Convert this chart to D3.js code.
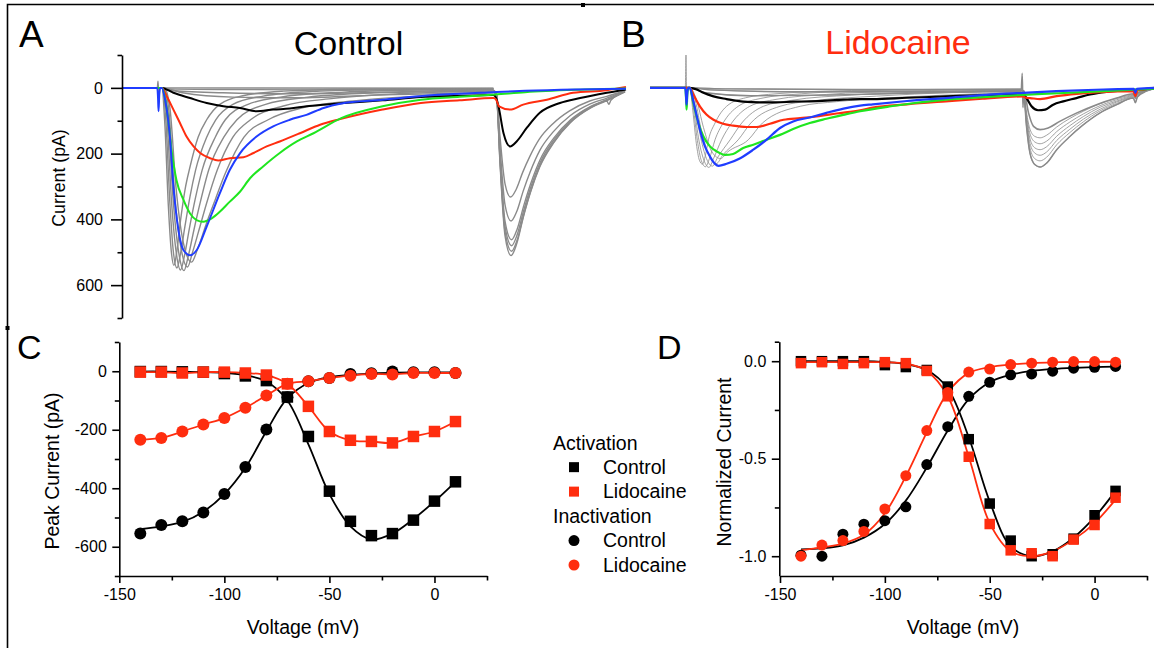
<!DOCTYPE html>
<html>
<head>
<meta charset="utf-8">
<script src="https://cdn.jsdelivr.net/npm/d3@7"></script>
<style>
  body { margin: 0; background: #fff; }
</style>
</head>
<body>
<script>
// ---- current traces, [time (ms), current (pA), positive = inward/down] ----
const ctrlBlack = [[0,0],[7.9,0],[10.2,15],[13.5,31],[16.8,46],[20.1,56],[23.4,61],[26.7,71],[30,66],[33.3,63],[36.6,56],[40,51],[44,46],[51.7,38],[59.3,28],[66,25],[73.7,22],[74.2,30],[74.7,56],[75.7,138],[77,178],[78.3,163],[80.3,122],[82.9,76],[86.9,46],[90.9,31],[96.2,15],[100,5]];
const ctrlRed = [[0,0],[7.9,0],[8.9,26],[10.2,66],[11.5,107],[12.8,148],[14.2,178],[15.5,198],[17.5,214],[19.1,221],[21.4,214],[24.1,211],[26.1,198],[28.7,178],[31.3,163],[35.3,138],[39.3,112],[43.3,95],[51.7,66],[59.3,46],[67,38],[73.7,31],[74.2,35],[74.8,56],[77,66],[79.6,51],[84.3,36],[89.5,15],[96.2,7],[100,-3]];
const ctrlGreen = [[0,0],[7.9,0],[8.9,66],[9.9,198],[10.8,280],[12.2,341],[13.5,382],[14.8,402],[16.1,407],[17.8,397],[19.4,377],[21.4,346],[23.4,316],[25.4,275],[28,239],[31.3,198],[34.7,163],[38,138],[43.5,92],[51.7,56],[59.3,36],[67,27],[74.1,20],[80,13],[90,6],[100,2]];
const ctrlBlue = [[0,0],[7.0,0],[7.15,30],[7.25,71],[7.4,20],[7.6,0],[7.9,0],[8.6,40],[9.5,148],[10.2,300],[11.2,433],[12.2,494],[13.5,509],[14.8,494],[16.8,422],[19.4,321],[21.4,249],[23.4,199],[26.7,148],[30,117],[33.3,97],[36.6,82],[40,61],[43.3,48],[51.8,36],[62,22],[73.8,13],[80,9],[90,5],[100,3]];
const ctrlGrayPulse1 = [
  [[0,0],[7.9,0],[10,8],[20,15],[35,18],[50,14],[73.7,10]],
  [[0,0],[7.0,0],[7.15,-20],[7.3,25],[7.45,0],[7.9,0],[9,3],[20,5],[40,6],[73.7,5]],
  [[0,0],[7.9,0],[12,15],[22,28],[35,30],[50,22],[73.7,14]],
  [[0,0],[7.9,0],[73.7,1]],
  [[0,0],[7.9,0],[8.5,110],[9.2,360],[9.8,500],[10.3,540],[10.9,495],[11.6,405],[12.5,310],[13.5,240],[15.1,150],[16.8,97],[19.4,50],[24,24],[32,10],[45,4],[73.7,2]],
  [[0,0],[8.0,0],[8.7,100],[9.5,350],[10.2,500],[10.9,548],[11.6,505],[12.5,420],[13.5,330],[14.6,250],[16.8,150],[18.6,97],[22,50],[28,25],[38,11],[55,5],[73.7,3]],
  [[0,0],[8.1,0],[8.9,90],[9.8,340],[10.8,505],[11.6,554],[12.4,510],[13.4,425],[14.5,340],[15.9,250],[18.5,150],[20.5,97],[25,50],[32,27],[44,13],[60,6],[73.7,4]],
  [[0,0],[8.2,0],[9.1,80],[10.1,330],[11.3,505],[12.3,556],[13.1,515],[14.3,430],[15.5,350],[17.2,250],[20.2,150],[22.8,97],[28.5,50],[37,28],[50,15],[65,8],[73.7,6]],
  [[0,0],[8.3,0],[9.3,70],[10.4,315],[11.8,495],[13.0,545],[14,500],[15.5,420],[16.8,350],[18.9,250],[22,150],[25.5,97],[32,55],[42,32],[55,18],[73.7,9]],
  [[0,0],[8.4,0],[9.5,60],[10.7,300],[12.3,480],[13.8,530],[15,490],[16.8,410],[18.5,340],[20.5,260],[24.2,150],[29,97],[36,60],[47,38],[60,24],[73.7,14]]
];
const ctrlGrayPulse2 = [
  [[73.7,10],[74.3,25],[75,230],[76,450],[77.2,510],[78.3,475],[79.6,395],[81,320],[82.9,240],[85.6,168],[88.9,107],[92.9,62],[96.2,40],[96.6,50],[97,38],[99.8,12]],
  [[73.7,10],[74.3,24],[75,222],[76,437],[77.3,497],[78.4,463],[79.7,386],[81.1,313],[83,234],[85.7,164],[89,104],[93,60],[96.2,39],[99.8,12]],
  [[73.7,9],[74.3,23],[75,214],[76,422],[77.3,480],[78.4,447],[79.7,373],[81.1,302],[83,226],[85.7,158],[89,101],[93,58],[96.2,37],[99.8,11]],
  [[73.7,9],[74.3,22],[75,206],[76,406],[77.3,462],[78.4,430],[79.7,359],[81.1,291],[83,217],[85.7,152],[89,97],[93,56],[96.2,36],[99.8,11]],
  [[73.7,8],[74.3,20],[75,180],[76,356],[77.2,405],[78.3,377],[79.6,314],[81,255],[82.9,190],[85.6,133],[88.9,85],[92.9,49],[96.2,31],[99.8,10]],
  [[73.7,7],[74.3,17],[75,148],[76,292],[77.1,332],[78.2,309],[79.5,257],[80.9,209],[82.8,156],[85.5,109],[88.8,70],[92.8,40],[96.2,26],[99.8,8]]
];

const lidoBlack = [[0,0],[7.9,0],[9.3,5],[10.6,15],[12.6,26],[15.2,34],[18.5,42],[21.8,44],[25.1,44],[28.4,42],[31.7,41],[35,39],[38.4,36],[41.7,34],[44.2,34],[51,30],[58.7,26],[66,22],[74,19],[74.7,31],[75.7,56],[77,68],[78.4,66],[80,51],[82,41],[84.6,31],[87.3,20],[90.6,12],[95.9,7],[100,1]];
const lidoRed = [[0,0],[7.9,0],[8.6,20],[9.9,56],[11.2,81],[12.6,97],[14.5,109],[16.5,115],[19.2,119],[21.2,119],[23.8,109],[26.5,97],[29.8,92],[33.1,87],[37,78],[41.7,68],[44.2,60],[51,50],[58.7,41],[66,33],[74,26],[74.6,30],[75.4,31],[77.4,34],[80.7,25],[84.7,18],[89.3,13],[95.9,10],[96.3,25],[96.7,8],[97.9,5],[100,0]];
const lidoGreen = [[0,0],[7.0,0],[7.15,30],[7.25,66],[7.4,20],[7.6,0],[7.9,0],[8.6,46],[9.6,107],[10.6,148],[11.9,178],[13.2,193],[14.9,204],[16.5,201],[18.5,183],[20.5,173],[23.1,158],[25.8,143],[28.4,125],[31.7,107],[35,94],[38.4,82],[41.7,71],[47.8,56],[58.7,36],[66,28],[74,21],[80,17],[90,10],[100,2]];
const lidoBlue = [[0,0],[7.0,0],[7.15,25],[7.25,51],[7.4,15],[7.6,0],[7.9,0],[8.6,41],[9.3,87],[9.9,127],[10.9,178],[11.9,209],[12.9,231],[13.6,237],[15.2,231],[17.9,214],[20.5,188],[23.1,158],[25.8,122],[28.4,102],[31.7,90],[35,76],[38.4,63],[41.7,54],[44.2,50],[51,40],[58.7,31],[66,22],[74,15],[80.6,10],[90,5],[96,3],[96.3,15],[96.6,3],[100,0]];
const lidoGrayPulse1 = [
  [[0,0],[7.9,0],[12,6],[30,12],[50,12],[73.7,9]],
  [[0,0],[7.9,0],[15,3],[40,5],[73.7,5]],
  [[0,0],[7.9,0],[11,15],[20,24],[35,22],[55,15],[73.7,10]],
  [[0,0],[7.0,0],[7.14,-100],[7.3,60],[7.5,0],[7.9,0],[8.5,70],[9.2,170],[9.8,220],[10.4,232],[11.0,205],[11.6,158],[12.9,107],[15.2,56],[19,30],[25,18],[40,8],[73.7,3]],
  [[0,0],[7.9,0],[8.6,60],[9.4,160],[10.2,222],[11.0,240],[11.8,215],[12.9,158],[14.5,107],[17.5,56],[22,32],[30,18],[45,8],[73.7,4]],
  [[0,0],[7.9,0],[8.7,50],[9.6,150],[10.7,220],[11.7,242],[12.6,215],[14.2,158],[16.2,107],[19.8,56],[25,35],[35,20],[50,10],[73.7,5]],
  [[0,0],[7.9,0],[8.8,45],[9.9,140],[11.2,215],[12.4,238],[13.4,212],[15.9,158],[18.2,107],[22.5,56],[28,38],[40,22],[55,12],[73.7,6]],
  [[0,0],[7.9,0],[9.0,40],[10.2,130],[11.7,205],[13.2,230],[14.4,205],[17.5,158],[20,107],[25.8,56],[32,40],[45,25],[60,14],[73.7,8]],
  [[0,0],[7.9,0],[9.2,35],[10.6,120],[12.3,195],[14.0,215],[15.4,195],[19.5,158],[22.3,107],[29.8,56],[37,42],[50,28],[65,18],[73.7,12]]
];
const lidoGrayPulse2 = [
  [[73.7,8],[74.1,10],[74.7,117],[75.4,199],[76.4,234],[77.4,241],[78.7,229],[80.7,188],[83.3,148],[86,112],[89.3,76],[92.6,51],[95.9,31],[96.3,45],[96.7,28],[98.5,10],[99.9,3]],
  [[73.7,8],[74.1,10],[74.7,108],[75.4,183],[76.4,216],[77.4,222],[78.7,211],[80.7,173],[83.3,136],[86,103],[89.3,70],[92.6,47],[95.9,29],[98.5,9],[99.9,3]],
  [[73.7,8],[74.1,10],[74.7,99],[75.4,169],[76.4,199],[77.4,205],[78.7,195],[80.7,160],[83.3,126],[86,95],[89.3,65],[92.6,43],[95.9,26],[98.5,9],[99.9,3]],
  [[73.7,8],[74.1,10],[74.7,91],[75.4,155],[76.4,183],[77.4,188],[78.7,179],[80.7,147],[83.3,115],[86,87],[89.3,59],[92.6,40],[95.9,24],[98.5,8],[99.9,3]],
  [[73.7,8],[74.1,10],[74.7,82],[75.4,140],[76.4,165],[77.4,170],[78.7,162],[80.7,133],[83.3,104],[86,79],[89.3,54],[92.6,36],[95.9,22],[98.5,7],[99.9,3]],
  [[73.7,8],[74.1,10],[74.7,74],[75.4,126],[76.4,148],[77.4,152],[78.7,144],[80.7,119],[83.3,93],[86,71],[89.3,48],[92.6,32],[95.9,20],[98.5,7],[99.9,3]]
];
const lidoGrayThick = [[73.7,5],[73.85,-44],[74.0,60],[74.15,8],[75.1,76],[76.1,117],[77.4,127],[79,122],[81.3,102],[84.7,76],[88.6,51],[92.6,31],[95.9,18],[96.3,32],[96.7,15],[99.9,3]];

// ---- peak current vs voltage ----
const voltages = [-140,-130,-120,-110,-100,-90,-80,-70,-60,-50,-40,-30,-20,-10,0,10];
const peakActCtrl = [-1,-1,-2,-3,-8,-16,-32,-88,-223,-410,-513,-562,-555,-509,-444,-378];
const peakActLido = [-3,-3,-6,-3,-3,-6,-13,-43,-120,-206,-236,-240,-245,-223,-206,-172];
const peakInactCtrl = [-555,-526,-513,-483,-420,-327,-199,-89,-34,-23,-9,-7,-1,-3,-3,-6];
const peakInactLido = [-234,-228,-206,-182,-160,-125,-83,-43,-34,-23,-15,-9,-11,-6,-6,-6];
const peakActCtrlFit = [-1,-1,-2,-3,-6,-14,-35,-100,-250,-420,-530,-575,-555,-505,-445,-378];
const peakInactCtrlFit = [-540,-530,-515,-480,-420,-330,-205,-92,-40,-20,-12,-8,-5,-4,-4,-4];

// ---- normalized current ----
const normActCtrl = [0,0,0,0,-0.02,-0.03,-0.045,-0.13,-0.40,-0.73,-0.92,-1.0,-0.99,-0.91,-0.79,-0.665];
const normActLido = [-0.01,-0.005,-0.014,-0.01,-0.005,-0.01,-0.05,-0.18,-0.49,-0.835,-0.97,-0.985,-1.0,-0.915,-0.84,-0.70];
const normInactCtrl = [-0.995,-1.0,-0.887,-0.836,-0.818,-0.747,-0.53,-0.336,-0.18,-0.108,-0.07,-0.065,-0.051,-0.036,-0.031,-0.027];
const normInactLido = [-1.0,-0.943,-0.92,-0.873,-0.758,-0.587,-0.356,-0.16,-0.056,-0.04,-0.017,-0.01,-0.005,-0.002,-0.002,-0.005];
const normActCtrlFit = [0,0,0,0,-0.005,-0.015,-0.045,-0.14,-0.39,-0.72,-0.95,-1.0,-0.975,-0.905,-0.80,-0.665];
const normActLidoFit = [-0.005,-0.005,-0.005,-0.005,-0.005,-0.012,-0.05,-0.18,-0.49,-0.83,-0.975,-1.0,-0.975,-0.915,-0.83,-0.71];
const normInactCtrlFit = [-0.965,-0.96,-0.945,-0.905,-0.835,-0.715,-0.545,-0.355,-0.195,-0.108,-0.07,-0.05,-0.04,-0.034,-0.03,-0.028];
const normInactLidoFit = [-0.97,-0.955,-0.935,-0.89,-0.78,-0.59,-0.365,-0.16,-0.06,-0.03,-0.017,-0.01,-0.006,-0.004,-0.003,-0.003];

// ---- ticks ----
const traceTicks = [0, 200, 400, 600];
const traceMinor = [-100, 100, 300, 500, 700];
const peakTicks = [0, -200, -400, -600];
const peakMinor = [100, -100, -300, -500, -700];
const voltTicks = [-150, -100, -50, 0];
const voltMinor = [-125, -75, -25, 25];
const normTicks = [0, -0.5, -1.0];
const normMinor = [0.1, -0.25, -0.75];

const ink = '#000', red = '#ff2d0f', green = '#1fe61f', blue = '#1f3cff', gray = '#8a8a8a';
const font = '"Liberation Sans", Arial, sans-serif';

const svg = d3.select('body').append('svg')
  .attr('width', 1154).attr('height', 648)
  .attr('font-family', font);

// figure frame
svg.append('path').attr('d', 'M7.5,648V4.5H1154').attr('fill', 'none').attr('stroke', ink).attr('stroke-width', 1.6);
svg.append('rect').attr('x', 581).attr('y', 3).attr('width', 4).attr('height', 4).attr('fill', ink);
svg.append('rect').attr('x', 5.5).attr('y', 326).attr('width', 4).attr('height', 4).attr('fill', ink);

function leftAxis(x, scale, major, minor, fmt, len, pad) {
  const g = svg.append('g').attr('transform', `translate(${x},0)`);
  g.append('g')
    .call(d3.axisLeft(scale).tickValues(minor).tickSize(4.5).tickSizeOuter(0).tickFormat(''))
    .call(s => s.select('.domain').remove());
  g.append('g')
    .call(d3.axisLeft(scale).tickValues(major).tickSize(len).tickSizeOuter(0).tickPadding(pad).tickFormat(fmt));
  g.selectAll('path, line').attr('stroke', ink).attr('stroke-width', 1.6);
  g.selectAll('text').attr('fill', ink).attr('font-size', 16).attr('font-family', font);
}

function bottomAxis(y, scale) {
  const g = svg.append('g').attr('transform', `translate(0,${y})`);
  g.append('g')
    .call(d3.axisBottom(scale).tickValues(voltMinor).tickSize(4.5).tickSizeOuter(0).tickFormat(''))
    .call(s => s.select('.domain').remove());
  g.append('g')
    .call(d3.axisBottom(scale).tickValues(voltTicks).tickSize(7).tickSizeOuter(0).tickPadding(6).tickFormat(d => String(d)));
  g.selectAll('path, line').attr('stroke', ink).attr('stroke-width', 1.6);
  g.selectAll('text').attr('fill', ink).attr('font-size', 16).attr('font-family', font);
}

function label(txt, x, y, size, opts = {}) {
  const t = svg.append('text')
    .attr('x', x).attr('y', y)
    .attr('font-size', size)
    .attr('fill', opts.fill || ink)
    .attr('text-anchor', opts.anchor || 'start')
    .text(txt);
  if (opts.rotate) {
    t.attr('x', 0).attr('y', 0).attr('dy', '0.35em')
      .attr('transform', `translate(${x},${y}) rotate(-90)`);
  }
  return t;
}

// ===== A / B : current traces =====
const traceY = d3.scaleLinear().domain([-100, 700]).range([55, 318]);
const timeA = d3.scaleLinear().domain([0, 100]).range([122, 626]);
const timeB = d3.scaleLinear().domain([0, 100]).range([650, 1154]);

function drawTrace(xs, data, color, w) {
  svg.append('path')
    .datum(data)
    .attr('fill', 'none')
    .attr('stroke', color)
    .attr('stroke-width', w)
    .attr('stroke-linejoin', 'round')
    .attr('d', d3.line().x(d => xs(d[0])).y(d => traceY(d[1])).curve(d3.curveMonotoneX));
}

ctrlGrayPulse1.forEach(d => drawTrace(timeA, d, gray, 1.4));
ctrlGrayPulse2.forEach(d => drawTrace(timeA, d, gray, 1.4));
drawTrace(timeA, ctrlBlack, ink, 2);
drawTrace(timeA, ctrlRed, red, 2);
drawTrace(timeA, ctrlGreen, green, 2);
drawTrace(timeA, ctrlBlue, blue, 2);

lidoGrayPulse1.forEach(d => drawTrace(timeB, d, gray, 0.8));
lidoGrayPulse1.slice(0, 3).forEach(d => drawTrace(timeB, d, gray, 1.4));
lidoGrayPulse2.forEach(d => drawTrace(timeB, d, gray, 0.8));
drawTrace(timeB, lidoGrayPulse2[0], gray, 1.5);
drawTrace(timeB, lidoGrayThick, gray, 1.6);
drawTrace(timeB, lidoBlack, ink, 2.2);
drawTrace(timeB, lidoRed, red, 2.2);
drawTrace(timeB, lidoGreen, green, 2.2);
drawTrace(timeB, lidoBlue, blue, 2.2);

leftAxis(122, traceY, traceTicks, traceMinor, d => String(d), 11, 8);
label('Current (pA)', 59, 178, 17.7, { anchor: 'middle', rotate: true });
label('Control', 348.5, 55, 34, { anchor: 'middle' });
label('Lidocaine', 898, 54, 34, { anchor: 'middle', fill: red });
label('A', 19, 47, 37);
label('B', 621, 47, 37);

// ===== markers / curves for C and D =====
function drawSeries(xs, ys, vals, color, shape, size, fit) {
  const pts = voltages.map((v, i) => [v, vals[i]]);
  const line = d3.line().x(d => xs(d[0])).y(d => ys(d[1])).curve(d3.curveCatmullRom.alpha(0.5));
  const curve = fit ? voltages.map((v, i) => [v, fit[i]]) : pts;
  svg.append('path').datum(curve)
    .attr('fill', 'none').attr('stroke', color).attr('stroke-width', 1.8).attr('d', line);
  return pts;
}
function drawMarkers(xs, ys, pts, color, shape, size) {
  const g = svg.append('g').attr('fill', color);
  if (shape === 'square') {
    g.selectAll('rect').data(pts).join('rect')
      .attr('x', d => xs(d[0]) - size / 2).attr('y', d => ys(d[1]) - size / 2)
      .attr('width', size).attr('height', size);
  } else {
    g.selectAll('circle').data(pts).join('circle')
      .attr('cx', d => xs(d[0])).attr('cy', d => ys(d[1])).attr('r', size / 2);
  }
}

// ===== C : peak current =====
const voltC = d3.scaleLinear().domain([-150, 25]).range([119.3, 487]);
const peakY = d3.scaleLinear().domain([100, -700]).range([342, 576]);

const cActCtrl = drawSeries(voltC, peakY, peakActCtrl, ink, 'square', 11, peakActCtrlFit);
const cInactCtrl = drawSeries(voltC, peakY, peakInactCtrl, ink, 'circle', 12, peakInactCtrlFit);
const cActLido = drawSeries(voltC, peakY, peakActLido, red, 'square', 11);
const cInactLido = drawSeries(voltC, peakY, peakInactLido, red, 'circle', 12);
drawMarkers(voltC, peakY, cActCtrl, ink, 'square', 11.5);
drawMarkers(voltC, peakY, cInactCtrl, ink, 'circle', 12);
drawMarkers(voltC, peakY, cActLido, red, 'square', 11.5);
drawMarkers(voltC, peakY, cInactLido, red, 'circle', 12);

leftAxis(119.3, peakY, peakTicks, peakMinor, d => String(d), 7, 5.5);
bottomAxis(576, voltC);
label('Peak Current (pA)', 52, 471, 19.5, { anchor: 'middle', rotate: true });
label('Voltage (mV)', 303, 634, 19.5, { anchor: 'middle' });
label('C', 17, 359, 34);

// ===== D : normalized current =====
const voltD = d3.scaleLinear().domain([-150, 25]).range([780, 1147]);
const normY = d3.scaleLinear().domain([0.1, -1.1]).range([341.7, 575.7]);

const dActCtrl = drawSeries(voltD, normY, normActCtrl, ink, 'square', 10.5, normActCtrlFit);
const dInactCtrl = drawSeries(voltD, normY, normInactCtrl, ink, 'circle', 11, normInactCtrlFit);
const dActLido = drawSeries(voltD, normY, normActLido, red, 'square', 10.5, normActLidoFit);
const dInactLido = drawSeries(voltD, normY, normInactLido, red, 'circle', 11, normInactLidoFit);
drawMarkers(voltD, normY, dActCtrl, ink, 'square', 10.5);
drawMarkers(voltD, normY, dInactCtrl, ink, 'circle', 11);
drawMarkers(voltD, normY, dActLido, red, 'square', 10.5);
drawMarkers(voltD, normY, dInactLido, red, 'circle', 11);

leftAxis(779.3, normY, normTicks, normMinor, d => d.toFixed(1), 7.5, 5.5);
bottomAxis(576, voltD);
label('Normalized Current', 724, 462, 19.5, { anchor: 'middle', rotate: true });
label('Voltage (mV)', 963, 634, 19.5, { anchor: 'middle' });
label('D', 657, 359, 34);

// ===== legend =====
const legendRows = [
  { text: 'Activation', head: true },
  { text: 'Control', color: ink, shape: 'square' },
  { text: 'Lidocaine', color: red, shape: 'square' },
  { text: 'Inactivation', head: true },
  { text: 'Control', color: ink, shape: 'circle' },
  { text: 'Lidocaine', color: red, shape: 'circle' }
];
const legY = d3.scaleLinear().domain([0, 5]).range([442.7, 565]);
const leg = svg.append('g');
legendRows.forEach((r, i) => {
  const y = legY(i);
  leg.append('text').attr('x', r.head ? 553 : 603).attr('y', y).attr('dy', '0.35em')
    .attr('font-size', 19.5).attr('fill', ink).text(r.text);
  if (r.shape === 'square') {
    leg.append('rect').attr('x', 574 - 5).attr('y', y - 5).attr('width', 10).attr('height', 10).attr('fill', r.color);
  } else if (r.shape === 'circle') {
    leg.append('circle').attr('cx', 574).attr('cy', y).attr('r', 5.5).attr('fill', r.color);
  }
});
</script>
</body>
</html>
